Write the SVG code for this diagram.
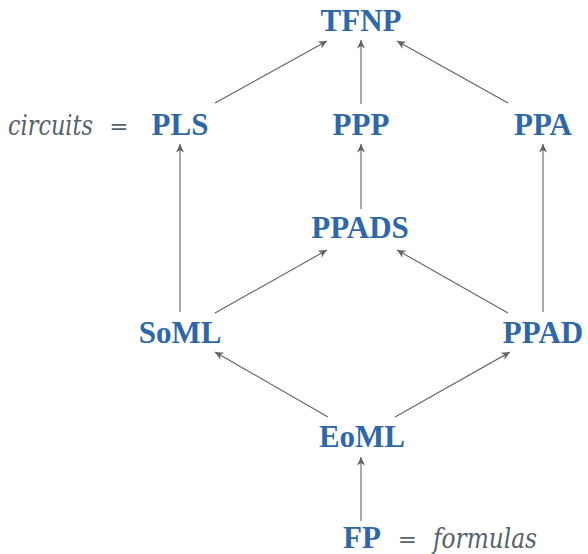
<svg xmlns="http://www.w3.org/2000/svg" width="588" height="554" viewBox="0 0 588 554">
  <style>
    .cls { font-family: "Liberation Serif", "Times New Roman", serif; font-weight: bold; font-size: 31px; fill: #2f67a8; text-anchor: middle; }
    .note { font-family: "DejaVu Serif", "Liberation Serif", serif; font-style: italic; font-size: 27px; fill: #59626c; }
    .eq { font-family: "DejaVu Serif", "Liberation Serif", serif; font-size: 23px; fill: #59626c; text-anchor: middle; }
    .edge { stroke: #5c636b; stroke-width: 1.1; fill: none; marker-end: url(#tip); }
  </style>
  <defs>
    <marker id="tip" markerUnits="userSpaceOnUse" markerWidth="12" markerHeight="10" refX="10" refY="5" orient="auto" viewBox="0 0 12 10">
      <path d="M10,5 L1.5,1 L4,5 L1.5,9 Z" fill="#5c636b"/>
    </marker>
  </defs>

  <rect width="588" height="554" fill="#ffffff"/>

  <g id="connectors">
    <line class="edge" x1="215" y1="103" x2="327" y2="41"/>
    <line class="edge" x1="361" y1="104" x2="361" y2="40"/>
    <line class="edge" x1="508" y1="103" x2="397" y2="41"/>
    <line class="edge" x1="180" y1="312" x2="180" y2="144"/>
    <line class="edge" x1="361" y1="209" x2="361" y2="144"/>
    <line class="edge" x1="543" y1="312" x2="543" y2="144"/>
    <line class="edge" x1="215" y1="313" x2="327" y2="250"/>
    <line class="edge" x1="508" y1="313" x2="397" y2="250"/>
    <line class="edge" x1="328" y1="417" x2="215" y2="352"/>
    <line class="edge" x1="395" y1="417" x2="510" y2="352"/>
    <line class="edge" x1="361" y1="521" x2="361" y2="457"/>
  </g>

  <g id="TFNP"><text class="cls" x="361" y="31">TFNP</text></g>
  <g id="PLS">
    <text class="note" x="8" y="135" textLength="85" lengthAdjust="spacingAndGlyphs">circuits</text>
    <text class="eq" x="119" y="134">=</text>
    <text class="cls" x="180" y="135">PLS</text>
  </g>
  <g id="PPP"><text class="cls" x="361" y="135">PPP</text></g>
  <g id="PPA"><text class="cls" x="543" y="135">PPA</text></g>
  <g id="PPADS"><text class="cls" x="360" y="238">PPADS</text></g>
  <g id="SoML"><text class="cls" x="180" y="343">SoML</text></g>
  <g id="PPAD"><text class="cls" x="543" y="343">PPAD</text></g>
  <g id="EoML"><text class="cls" x="362" y="447">EoML</text></g>
  <g id="FP">
    <text class="cls" x="362" y="548">FP</text>
    <text class="eq" x="407.5" y="547">=</text>
    <text class="note" x="433" y="548" textLength="104" lengthAdjust="spacingAndGlyphs">formulas</text>
  </g>
</svg>
